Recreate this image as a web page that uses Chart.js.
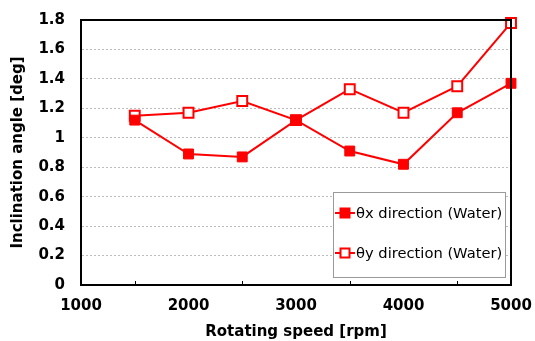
<!DOCTYPE html>
<html><head><meta charset="utf-8">
<script src="https://cdn.jsdelivr.net/npm/chart.js@4"></script>
<style>html,body{margin:0;padding:0;background:#fff}#w{width:535px;height:341px}</style>
</head><body><div id="w"><canvas id="c"></canvas></div>
<script>
const speeds = [1500, 2000, 2500, 3000, 3500, 4000, 4500, 5000];
const thetaX = [1.12, 0.89, 0.87, 1.12, 0.91, 0.82, 1.17, 1.37];
const thetaY = [1.15, 1.17, 1.25, 1.12, 1.33, 1.17, 1.35, 1.78];
const seriesLabels = ['θx direction (Water)', 'θy direction (Water)'];
const xTitle = 'Rotating speed [rpm]';
const yTitle = 'Inclination angle [deg]';
const minorXTicks = [1500, 2500, 3500, 4500];

const RED = '#ff0000';
const FONT = '"DejaVu Sans", sans-serif';

const framePlugin = {
  id: 'frame',
  afterDatasetsDraw(chart) {
    const {ctx, chartArea: a, scales} = chart;
    ctx.save();
    ctx.strokeStyle = '#000';
    ctx.lineWidth = 2;
    ctx.strokeRect(a.left, a.top, a.right - a.left, a.bottom - a.top);
    ctx.lineWidth = 1;
    minorXTicks.forEach(v => {
      const x = Math.round(scales.x.getPixelForValue(v)) + 0.5;
      ctx.beginPath(); ctx.moveTo(x, a.bottom); ctx.lineTo(x, a.bottom - 4); ctx.stroke();
    });
    // legend
    const lx = 333, ly = 192, lw = 172, lh = 85;
    ctx.fillStyle = '#fff';
    ctx.fillRect(lx, ly, lw, lh);
    ctx.strokeStyle = '#9a9a9a';
    ctx.lineWidth = 1;
    ctx.strokeRect(lx + 0.5, ly + 0.5, lw, lh);
    chart.data.datasets.forEach((ds, i) => {
      const y = ly + 21 + i * 40;
      ctx.strokeStyle = ds.borderColor;
      ctx.lineWidth = 2;
      ctx.beginPath(); ctx.moveTo(lx + 2, y); ctx.lineTo(lx + 22, y); ctx.stroke();
      const s = 9;
      ctx.fillStyle = ds.pointBackgroundColor;
      ctx.fillRect(lx + 12 - s/2, y - s/2, s, s);
      ctx.strokeRect(lx + 12 - s/2, y - s/2, s, s);
      ctx.fillStyle = '#000';
      ctx.font = '14.7px ' + FONT;
      ctx.textBaseline = 'middle';
      ctx.textAlign = 'left';
      ctx.fillText(ds.label, lx + 23, y + 1);
    });
    ctx.restore();
  }
};

new Chart(document.getElementById('c'), {
  type: 'line',
  data: {
    datasets: [
      { label: seriesLabels[0], data: speeds.map((s, i) => ({x: s, y: thetaX[i]})),
        borderColor: RED, backgroundColor: RED, pointBackgroundColor: RED, pointBorderColor: RED,
        borderWidth: 2, pointStyle: 'rect', pointRadius: 7, pointBorderWidth: 1, tension: 0, clip: false },
      { label: seriesLabels[1], data: speeds.map((s, i) => ({x: s, y: thetaY[i]})),
        borderColor: RED, backgroundColor: '#fff', pointBackgroundColor: '#fff', pointBorderColor: RED,
        borderWidth: 2, pointStyle: 'rect', pointRadius: 7, pointBorderWidth: 2, tension: 0, clip: false }
    ]
  },
  options: {
    responsive: true, maintainAspectRatio: false, animation: false,
    layout: { padding: { left: 0, right: 24, top: 20, bottom: 0 } },
    plugins: { legend: { display: false }, tooltip: { enabled: false } },
    scales: {
      x: {
        type: 'linear', min: 1000, max: 5000,
        afterFit(s) { s.height = 56; s.paddingLeft = 0; s.paddingRight = 0; },
        ticks: { stepSize: 1000, padding: 12, color: '#000', font: { family: FONT, size: 15, weight: 'bold' }, maxRotation: 0,
          callback: v => String(v) },
        grid: { display: false, drawTicks: false },
        border: { display: true, color: '#000', width: 2 },
        title: { display: true, text: xTitle, color: '#000', font: { family: FONT, size: 15, weight: 'bold' }, padding: { top: 0, bottom: 0 } }
      },
      y: {
        min: 0, max: 1.8,
        afterFit(s) { s.width = 81; s.paddingTop = 0; s.paddingBottom = 0; },
        ticks: { stepSize: 0.2, padding: 16, color: '#000', font: { family: FONT, size: 15, weight: 'bold' },
          callback: v => String(Math.round(v * 10) / 10) },
        grid: { drawTicks: false, color: ctx => (ctx.tick && (ctx.tick.value < 0.1 || ctx.tick.value > 1.7)) ? 'rgba(0,0,0,0)' : '#bdbdbd', lineWidth: 1 },
        border: { display: true, color: '#000', width: 2, dash: [2, 2] },
        title: { display: true, text: yTitle, color: '#000', font: { family: FONT, size: 15, weight: 'bold' }, padding: { top: 9, bottom: 0 } }
      }
    }
  },
  plugins: [framePlugin]
});
</script></body></html>
